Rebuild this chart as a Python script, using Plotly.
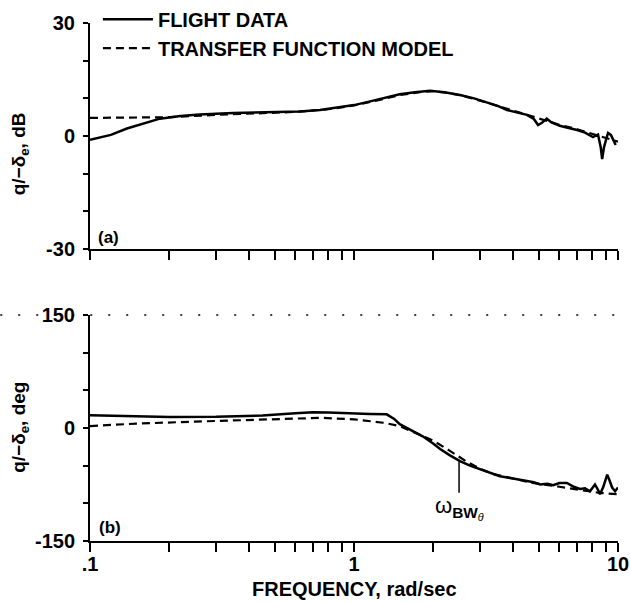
import plotly.graph_objects as go
from plotly.subplots import make_subplots

# ---- data ----
mag_freq = [0.1, 0.12, 0.138, 0.16, 0.184, 0.22, 0.26, 0.348, 0.45, 0.55, 0.624, 0.743, 0.885, 1.0,
            1.12, 1.3, 1.49, 1.7, 1.94, 2.2, 2.52, 2.85, 3.19, 3.5, 3.8, 4.2, 4.52, 4.8, 4.98, 5.15,
            5.37, 5.6, 6.02, 6.5, 7.0, 7.5, 8.04, 8.4, 8.6, 8.71, 8.85, 9.0, 9.17, 9.4, 9.6, 9.8]
mag_flight = [-1.0, 0.3, 2.0, 3.3, 4.6, 5.3, 5.7, 6.1, 6.3, 6.3, 6.5, 6.9, 7.7, 8.2,
              9.0, 10.1, 11.1, 11.6, 12.0, 11.6, 10.9, 10.0, 9.0, 8.0, 6.9, 6.2, 5.6, 4.5, 2.9, 3.5,
              4.6, 3.6, 2.7, 2.1, 1.6, 0.9, -0.3, 0.4, -3.0, -6.1, -3.0, -1.1, 0.8, 0.3, -1.3, -2.4]

mag_model_freq = [0.1, 0.15, 0.2, 0.3, 0.45, 0.6, 0.8, 1.0, 1.25, 1.5, 1.8, 2.0, 2.3, 2.6, 3.0,
                  3.5, 4.0, 4.5, 5.0, 6.0, 7.0, 8.0, 9.0, 10.0]
mag_model = [4.8, 4.8, 5.0, 5.6, 6.1, 6.4, 7.1, 8.1, 9.6, 10.9, 11.7, 11.9, 11.4, 10.6, 9.4,
             8.0, 6.7, 5.6, 4.6, 3.0, 1.8, 0.6, -0.5, -1.5]

ph_freq = [0.1, 0.15, 0.2, 0.3, 0.45, 0.6, 0.7, 0.8, 0.966, 1.15, 1.33, 1.42, 1.49, 1.58, 1.7,
           1.82, 2.0, 2.12, 2.3, 2.52, 2.75, 3.0, 3.3, 3.57, 4.0, 4.52, 4.8, 5.07, 5.4, 5.68,
           6.0, 6.41, 6.8, 7.18, 7.5, 7.83, 8.18, 8.4, 8.55, 8.8, 9.1, 9.3, 9.5, 9.75, 10.0]
ph_flight = [17, 15, 14.5, 14.8, 16.5, 19.5, 21, 20.5, 19, 18.5, 18.1, 12, 5, 0, -6,
             -11, -21, -28, -36, -44, -50, -55, -60, -64, -67, -70, -72, -75, -74, -76,
             -73, -73, -78, -81, -80, -84, -75, -82, -88, -78, -62, -70, -79, -84, -79]

ph_model_freq = [0.1, 0.15, 0.25, 0.4, 0.6, 0.75, 1.0, 1.15, 1.29, 1.49, 1.7, 2.0, 2.3, 2.68,
                 3.0, 3.36, 4.0, 4.76, 6.0, 7.36, 8.5, 10.0]
ph_model = [2.6, 5.8, 8.5, 11, 13, 13.5, 11.5, 9.5, 7, 2.6, -6, -17, -30, -45,
            -54, -61, -67, -73, -78, -83, -86, -88]

x_tickvals = [0.1, 0.2, 0.3, 0.4, 0.5, 0.6, 0.7, 0.8, 0.9, 1, 2, 3, 4, 5, 6, 7, 8, 9, 10]
x_ticktext = [".1", "", "", "", "", "", "", "", "", "1", "", "", "", "", "", "", "", "", "10"]
mag_tickvals = [-30, -20, -10, 0, 10, 20, 30]
mag_ticktext = ["-30", "", "", "0", "", "", "30"]
ph_tickvals = [-150, -100, -50, 0, 50, 100, 150]
ph_ticktext = ["-150", "", "", "0", "", "", "150"]
bw_freq = 2.5
bw_range = [-44, -86]

FONT = "Liberation Sans, Arial, Helvetica, sans-serif"

fig = make_subplots(rows=2, cols=1, vertical_spacing=0.1274)

line_solid = dict(color="black", width=2.5)
line_dash = dict(color="black", width=2.2, dash="8px,5px")

fig.add_trace(go.Scatter(x=mag_freq, y=mag_flight, mode="lines", line=line_solid,
                         name="FLIGHT DATA", showlegend=True), row=1, col=1)
fig.add_trace(go.Scatter(x=mag_model_freq, y=mag_model, mode="lines", line=line_dash,
                         name="TRANSFER FUNCTION MODEL", showlegend=True), row=1, col=1)
fig.add_trace(go.Scatter(x=ph_freq, y=ph_flight, mode="lines", line=line_solid,
                         showlegend=False), row=2, col=1)
fig.add_trace(go.Scatter(x=ph_model_freq, y=ph_model, mode="lines", line=line_dash,
                         showlegend=False), row=2, col=1)
# bandwidth marker
fig.add_trace(go.Scatter(x=[bw_freq, bw_freq], y=bw_range, mode="lines",
                         line=dict(color="black", width=1.5), showlegend=False), row=2, col=1)

tickfont = dict(family=FONT, size=20, color="black", weight="bold")
xcommon = dict(type="log", range=[-1, 1], tickmode="array", tickvals=x_tickvals,
               showline=True, linecolor="black", linewidth=2, ticks="outside",
               ticklen=9, tickwidth=2, tickcolor="black", showgrid=False, zeroline=False,
               tickfont=tickfont, mirror=False, automargin=False, ticklabelstandoff=-5)
fig.update_xaxes(**xcommon, ticktext=[""] * len(x_tickvals), row=1, col=1)
fig.update_xaxes(**xcommon, ticktext=x_ticktext, row=2, col=1)

ycommon = dict(showline=True, linecolor="black", linewidth=2, ticks="outside", ticklen=5,
               tickwidth=2, tickcolor="black", showgrid=False, zeroline=False,
               tickfont=tickfont, tickmode="array", ticklabelstandoff=4, automargin=False)
fig.update_yaxes(**ycommon, range=[-30, 30], tickvals=mag_tickvals, ticktext=mag_ticktext,
                 row=1, col=1)
fig.update_yaxes(**ycommon, range=[-150, 150], tickvals=ph_tickvals, ticktext=ph_ticktext,
                 row=2, col=1)

labfont = dict(family=FONT, size=19, color="black", weight="bold")
annotations = [
    dict(text="q/−δ<sub>e</sub>, dB", x=-0.133, y=0.748, xref="paper", yref="paper",
         textangle=-90, showarrow=False, font=labfont, xanchor="center", yanchor="middle"),
    dict(text="q/−δ<sub>e</sub>, deg", x=-0.133, y=0.22, xref="paper", yref="paper",
         textangle=-90, showarrow=False, font=labfont, xanchor="center", yanchor="middle"),
    dict(text="FREQUENCY, rad/sec", x=0.5, y=-0.092, xref="paper", yref="paper",
         showarrow=False, font=dict(family=FONT, size=20, color="black", weight="bold"),
         xanchor="center", yanchor="middle"),
    dict(text="(a)", x=0.012, y=0.586, xref="paper", yref="paper", showarrow=False,
         font=dict(family=FONT, size=17, color="black", weight="bold"),
         xanchor="left", yanchor="middle"),
    dict(text="(b)", x=0.014, y=0.027, xref="paper", yref="paper", showarrow=False,
         font=dict(family=FONT, size=17, color="black", weight="bold"),
         xanchor="left", yanchor="middle"),
    dict(text="ω<sub><b>BW</b><sub><i>θ</i></sub></sub>", x=0.398, y=-106, xref="x2", yref="y2",
         showarrow=False, font=dict(family=FONT, size=22, color="black"),
         xanchor="center", yanchor="middle"),
]

shapes = [
    dict(type="line", xref="paper", yref="paper", x0=-0.17, x1=1.0, y0=0.4363, y1=0.4363,
         line=dict(color="black", width=1.5, dash="2px,16px"), layer="below"),
]

fig.update_layout(
    width=630, height=602,
    margin=dict(l=90, r=12, t=23, b=61, autoexpand=False),
    paper_bgcolor="white", plot_bgcolor="white",
    font=dict(family=FONT, color="black"),
    annotations=annotations,
    shapes=shapes,
    legend=dict(x=0.015, y=1.045, xanchor="left", yanchor="top",
                font=dict(family=FONT, size=20, color="black", weight="bold"),
                bgcolor="rgba(0,0,0,0)", itemwidth=50, tracegroupgap=0),
)

fig.write_html("out.html", config={"displayModeBar": False},
               post_script="document.body.style.margin='0px';document.body.style.overflow='hidden';")
